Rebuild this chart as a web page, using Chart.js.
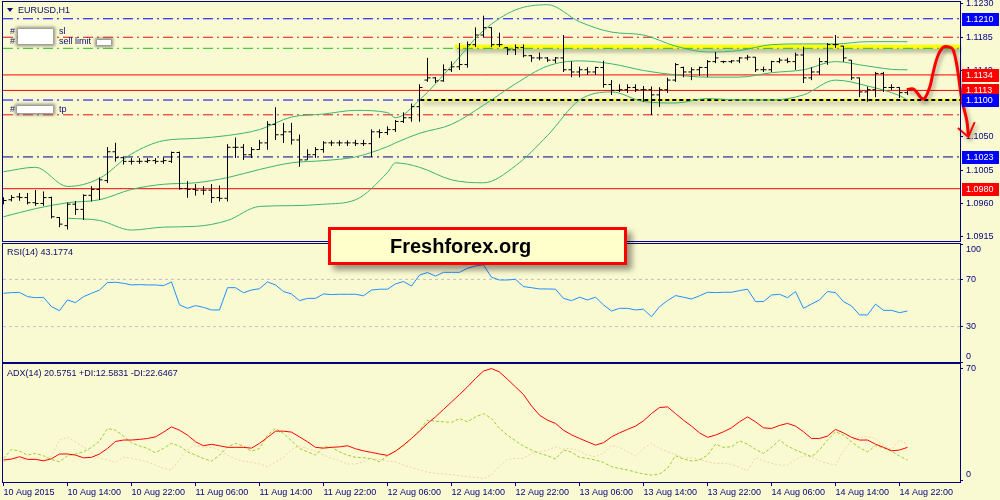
<!DOCTYPE html>
<html>
<head>
<meta charset="utf-8">
<title>EURUSD,H1</title>
<script src="https://cdn.jsdelivr.net/npm/chart.js@4.4.1/dist/chart.umd.min.js"></script>
<style>
  html, body { margin: 0; padding: 0; }
  body { width: 1000px; height: 500px; position: relative; overflow: hidden; background: #fafad2;
         font-family: "Liberation Sans", Arial, sans-serif; }
  canvas { position: absolute; left: 0; }
  .lbl { position: absolute; font-size: 9px; line-height: 11px; color: #0b0b70; white-space: nowrap; z-index: 5; }
  .blur { position: absolute; background: #fff; box-shadow: 0 0 3px 2px rgba(110,110,110,0.75); z-index: 6; }
  .tri { position: absolute; left: 7px; top: 8px; width: 0; height: 0; z-index: 5;
         border-left: 3px solid transparent; border-right: 3px solid transparent; border-top: 4px solid #0b0b70; }
  #brand { position: absolute; left: 328px; top: 227px; width: 299px; height: 38px; box-sizing: border-box;
           border: 3px solid #ff0000; background: #ffffcc; box-shadow: 5px 5px 6px rgba(0,0,0,0.4);
           font: bold 20px "Liberation Sans", Arial, sans-serif; line-height: 32px; padding-left: 59px; color: #000; z-index: 7; }
</style>
</head>
<body>
<canvas id="mainChart" width="1000" height="243" style="top:0"></canvas>
<canvas id="rsiChart" width="1000" height="120" style="top:243px"></canvas>
<canvas id="adxChart" width="1000" height="137" style="top:363px"></canvas>

<div class="tri"></div>
<div class="lbl" style="left:18px;top:5px">EURUSD,H1</div>
<div class="lbl" style="left:10px;top:26px">#</div>
<div class="lbl" style="left:59px;top:26px">sl</div>
<div class="lbl" style="left:10px;top:36px">#</div>
<div class="lbl" style="left:59px;top:36px">sell limit</div>
<div class="lbl" style="left:10px;top:104px">#</div>
<div class="lbl" style="left:59px;top:104px">tp</div>
<div class="blur" style="left:18px;top:29px;width:35px;height:15px"></div>
<div class="blur" style="left:97px;top:40px;width:14px;height:5px"></div>
<div class="blur" style="left:17px;top:106px;width:36px;height:7px"></div>
<div class="lbl" style="left:7px;top:247px">RSI(14) 43.1774</div>
<div class="lbl" style="left:7px;top:368px">ADX(14) 20.5751 +DI:12.5831 -DI:22.6467</div>
<div id="brand">Freshforex.org</div>

<script>
// ---------- values ----------

// hourly bars, 10 Aug 06:00 .. 14 Aug 23:00
const opens = [
  1.0964, 1.0965, 1.0969, 1.0968, 1.0961, 1.0960, 1.0968, 1.0941, 1.0930, 1.0959,
  1.0952, 1.0971, 1.0979, 1.0991, 1.1030, 1.1022, 1.1017, 1.1017, 1.1017, 1.1018,
  1.1017, 1.1017, 1.1029, 1.0980, 1.0979, 1.0978, 1.0978, 1.0968, 1.0967, 1.1036,
  1.1036, 1.1026, 1.1033, 1.1042, 1.1067, 1.1053, 1.1057, 1.1046, 1.1019, 1.1026,
  1.1033, 1.1042, 1.1042, 1.1042, 1.1042, 1.1041, 1.1041, 1.1057, 1.1056, 1.1060,
  1.1071, 1.1076, 1.1091, 1.1127, 1.1130, 1.1126, 1.1141, 1.1145, 1.1148, 1.1175,
  1.1188, 1.1198, 1.1175, 1.1171, 1.1168, 1.1171, 1.1160, 1.1157, 1.1157, 1.1154,
  1.1157, 1.1141, 1.1138, 1.1141, 1.1138, 1.1144, 1.1121, 1.1113, 1.1114, 1.1117,
  1.1114, 1.1114, 1.1107, 1.1114, 1.1127, 1.1144, 1.1138, 1.1141, 1.1144, 1.1152,
  1.1152, 1.1152, 1.1153, 1.1157, 1.1158, 1.1141, 1.1141, 1.1152, 1.1154, 1.1152,
  1.1161, 1.1130, 1.1138, 1.1152, 1.1175, 1.1173, 1.1154, 1.1130, 1.1111, 1.1114,
  1.1136, 1.1117, 1.1117, 1.1110
];
const highs = [
  1.0968, 1.0971, 1.0974, 1.0974, 1.0978, 1.0976, 1.0969, 1.0941, 1.0961, 1.0963,
  1.0972, 1.0983, 1.0995, 1.1036, 1.1042, 1.1023, 1.1021, 1.1021, 1.1021, 1.1021,
  1.1022, 1.1030, 1.1030, 1.0990, 1.0986, 1.0983, 1.0986, 1.0984, 1.1040, 1.1049,
  1.1040, 1.1036, 1.1046, 1.1071, 1.1090, 1.1069, 1.1069, 1.1053, 1.1033, 1.1036,
  1.1044, 1.1045, 1.1045, 1.1045, 1.1046, 1.1046, 1.1060, 1.1060, 1.1064, 1.1073,
  1.1083, 1.1095, 1.1121, 1.1157, 1.1131, 1.1148, 1.1152, 1.1177, 1.1179, 1.1198,
  1.1214, 1.1198, 1.1191, 1.1171, 1.1175, 1.1175, 1.1161, 1.1164, 1.1158, 1.1158,
  1.1188, 1.1152, 1.1145, 1.1144, 1.1145, 1.1153, 1.1127, 1.1121, 1.1121, 1.1121,
  1.1119, 1.1118, 1.1117, 1.1130, 1.1150, 1.1145, 1.1144, 1.1145, 1.1154, 1.1165,
  1.1153, 1.1154, 1.1158, 1.1161, 1.1158, 1.1145, 1.1153, 1.1157, 1.1157, 1.1164,
  1.1172, 1.1144, 1.1157, 1.1177, 1.1188, 1.1173, 1.1154, 1.1130, 1.1118, 1.1138,
  1.1138, 1.1121, 1.1117, 1.1115
];
const lows = [
  1.0959, 1.0963, 1.0964, 1.0959, 1.0957, 1.0957, 1.0940, 1.0928, 1.0925, 1.0945,
  1.0938, 1.0963, 1.0965, 1.0988, 1.1017, 1.1013, 1.1013, 1.1014, 1.1015, 1.1014,
  1.1014, 1.1015, 1.0979, 1.0968, 1.0971, 1.0972, 1.0961, 1.0963, 1.0963, 1.1022,
  1.1019, 1.1022, 1.1037, 1.1033, 1.1046, 1.1042, 1.1040, 1.1010, 1.1019, 1.1022,
  1.1029, 1.1038, 1.1038, 1.1038, 1.1038, 1.1038, 1.1023, 1.1049, 1.1053, 1.1057,
  1.1069, 1.1071, 1.1071, 1.1125, 1.1123, 1.1125, 1.1138, 1.1141, 1.1144, 1.1172,
  1.1185, 1.1172, 1.1172, 1.1161, 1.1161, 1.1158, 1.1152, 1.1154, 1.1152, 1.1150,
  1.1138, 1.1131, 1.1131, 1.1134, 1.1134, 1.1117, 1.1107, 1.1111, 1.1110, 1.1111,
  1.1098, 1.1080, 1.1091, 1.1110, 1.1125, 1.1131, 1.1127, 1.1133, 1.1131, 1.1150,
  1.1150, 1.1150, 1.1150, 1.1154, 1.1138, 1.1138, 1.1138, 1.1150, 1.1150, 1.1141,
  1.1123, 1.1127, 1.1134, 1.1148, 1.1171, 1.1152, 1.1127, 1.1104, 1.1098, 1.1104,
  1.1111, 1.1114, 1.1103, 1.1107
];
const closes = [
  1.0964, 1.0968, 1.0968, 1.0961, 1.0960, 1.0968, 1.0942, 1.0932, 1.0959, 1.0952,
  1.0971, 1.0979, 1.0992, 1.1030, 1.1022, 1.1017, 1.1017, 1.1017, 1.1018, 1.1017,
  1.1018, 1.1029, 1.0980, 1.0979, 1.0978, 1.0978, 1.0968, 1.0967, 1.1036, 1.1036,
  1.1026, 1.1033, 1.1042, 1.1067, 1.1053, 1.1057, 1.1046, 1.1019, 1.1026, 1.1033,
  1.1042, 1.1042, 1.1042, 1.1042, 1.1041, 1.1041, 1.1057, 1.1056, 1.1060, 1.1071,
  1.1076, 1.1091, 1.1117, 1.1130, 1.1126, 1.1141, 1.1145, 1.1148, 1.1175, 1.1188,
  1.1198, 1.1175, 1.1175, 1.1168, 1.1171, 1.1160, 1.1157, 1.1157, 1.1154, 1.1157,
  1.1141, 1.1138, 1.1141, 1.1138, 1.1144, 1.1121, 1.1113, 1.1114, 1.1117, 1.1114,
  1.1114, 1.1107, 1.1114, 1.1127, 1.1148, 1.1138, 1.1141, 1.1144, 1.1152, 1.1157,
  1.1152, 1.1153, 1.1157, 1.1158, 1.1141, 1.1141, 1.1152, 1.1154, 1.1152, 1.1161,
  1.1130, 1.1138, 1.1152, 1.1175, 1.1175, 1.1157, 1.1130, 1.1111, 1.1114, 1.1136,
  1.1117, 1.1117, 1.1110, 1.1113
];

// Bollinger bands, read at these bar numbers
const bbIdx = [0, 4, 8, 12, 16, 20, 24, 28, 32, 36, 40, 44, 48, 49, 52, 56, 60, 64, 68, 72,
               76, 80, 84, 88, 92, 96, 100, 104, 108, 112, 113];
const bbUpper = [1.1003, 1.1009, 1.0983, 1.0994, 1.1027, 1.1045, 1.1048, 1.1052, 1.1060, 1.1077,
                 1.1081, 1.1086, 1.1083, 1.1076, 1.1100, 1.1146, 1.1194, 1.1222, 1.1229, 1.1206,
                 1.1192, 1.1188, 1.1173, 1.1165, 1.1167, 1.1175, 1.1176, 1.1176, 1.1179, 1.1179, 1.1179];
const bbMiddle = [1.0942, 1.0953, 1.0961, 1.0965, 1.0979, 1.0986, 1.0988, 1.0995, 1.1006, 1.1015,
                  1.1018, 1.1023, 1.1037, 1.1042, 1.1055, 1.1067, 1.1093, 1.1122, 1.1146, 1.1153,
                  1.1149, 1.1140, 1.1134, 1.1131, 1.1131, 1.1137, 1.1141, 1.1152, 1.1146, 1.1141, 1.1141];
const bbLower = [null, null, 1.0940, 1.0937, 1.0924, 1.0928, 1.0929, 1.0937, 1.0956, 1.0957,
                 1.0959, 1.0965, 1.1002, 1.1015, 1.1009, 1.0992, 1.0988, 1.1011, 1.1052, 1.1100,
                 1.1111, 1.1098, 1.1096, 1.1102, 1.1100, 1.1100, 1.1107, 1.1127, 1.1119, 1.1106, 1.1100];

const priceTicks = [1.1230, 1.1185, 1.1140, 1.1095, 1.1050, 1.1005, 1.0960, 1.0915];
// horizontal levels: 1.1210, sl, sell limit, 1.1134, 1.1113, 1.1100, tp, 1.1023, 1.0980
const levelPrices = [1.1210, 1.1185, 1.1170, 1.1134, 1.1113, 1.1100, 1.1080, 1.1023, 1.0980];
// yellow zone lines (price, first bar)
const trendLevels = [1.1172, 1.1100];
const trendStart = [56.4, 52.1];
// hand drawn red forecast (bar number, price) and its arrow head
const projX = [112.9, 113.7, 114.2, 114.8, 115.2, 115.8, 116.2, 116.7, 117.4, 118.2, 118.7, 119.2, 119.8, 120.4, 120.6];
const projY = [1.1114, 1.1115, 1.1110, 1.1102, 1.1103, 1.1118, 1.1137, 1.1157, 1.1171, 1.1172, 1.1168, 1.1145, 1.1100, 1.1073, 1.1053];
const arrowX = [119.3, 120.6, 121.4];
const arrowY = [1.1062, 1.1050, 1.1070];

const rsi = [
  58.2, 58.8, 59.0, 55.4, 54.5, 54.8, 46.9, 43.5, 52.6, 50.3,
  55.4, 58.2, 61.0, 67.3, 67.6, 66.7, 65.3, 65.6, 65.3, 65.3,
  64.7, 67.9, 48.4, 45.5, 47.8, 46.3, 44.1, 44.1, 63.0, 63.0,
  58.7, 61.0, 62.1, 67.9, 65.3, 59.7, 57.7, 52.0, 53.9, 53.9,
  57.7, 57.1, 57.4, 57.4, 57.4, 56.1, 61.0, 61.7, 61.7, 66.2,
  68.2, 64.4, 73.7, 75.8, 72.8, 76.0, 76.0, 76.0, 79.4, 81.4,
  82.3, 71.8, 69.5, 69.5, 70.1, 63.9, 63.0, 61.9, 61.9, 61.7,
  53.9, 52.0, 54.9, 52.6, 54.9, 48.4, 43.2, 45.5, 45.5, 44.1,
  44.7, 38.4, 46.9, 52.0, 56.3, 54.9, 53.4, 56.1, 59.1, 58.8,
  59.1, 59.1, 60.5, 61.7, 51.2, 51.2, 56.8, 57.4, 54.5, 59.7,
  45.5, 49.1, 52.6, 59.7, 58.8, 51.2, 47.5, 39.9, 39.9, 49.0,
  43.8, 43.8, 41.8, 43.2
];
const rsiLevels = [30, 70];
const rsiTicks = [0, 30, 70, 100];

const adx = [
  12.6, 13.2, 14.7, 13.0, 13.0, 12.1, 13.4, 16.4, 16.4, 15.7,
  14.0, 14.3, 16.4, 19.9, 24.3, 25.2, 25.2, 25.6, 26.2, 27.2,
  30.2, 33.5, 31.4, 28.3, 24.1, 21.6, 22.5, 21.6, 20.6, 20.6,
  20.6, 20.1, 23.1, 26.9, 30.8, 30.8, 30.2, 27.2, 24.1, 20.6,
  20.1, 20.6, 20.9, 21.6, 19.7, 18.4, 17.4, 16.4, 15.5, 18.2,
  22.0, 26.2, 30.8, 35.7, 39.8, 44.5, 49.2, 53.9, 58.7, 64.0,
  68.7, 70.3, 68.1, 63.5, 58.7, 53.9, 46.7, 40.9, 37.7, 35.7,
  31.4, 28.5, 26.2, 24.1, 22.0, 23.5, 27.2, 29.7, 31.9, 34.0,
  37.3, 41.9, 45.7, 46.1, 41.9, 37.7, 34.0, 29.7, 26.9, 28.3,
  30.4, 32.9, 36.7, 39.8, 36.7, 32.9, 32.5, 34.4, 35.7, 34.0,
  30.4, 26.2, 26.2, 27.7, 31.9, 29.7, 26.9, 25.2, 25.2, 22.6,
  20.6, 18.4, 18.9, 20.6
];
const plusDI = [
  13.6, 19.3, 18.2, 15.7, 16.8, 15.3, 13.0, 11.5, 15.3, 16.4,
  17.8, 20.6, 24.5, 32.5, 31.4, 27.7, 23.5, 21.4, 19.9, 17.2,
  19.9, 23.1, 21.4, 17.8, 15.7, 13.6, 11.9, 15.7, 20.9, 23.1,
  21.4, 18.2, 19.9, 28.3, 32.5, 29.4, 24.7, 19.9, 17.8, 15.7,
  20.9, 20.6, 17.8, 15.7, 14.3, 14.1, 13.4, 11.5, 15.3, 18.2,
  21.4, 26.2, 31.4, 37.7, 37.1, 36.7, 36.3, 38.8, 36.7, 39.8,
  41.9, 38.8, 32.5, 28.3, 24.7, 21.4, 18.9, 16.8, 15.3, 13.2,
  18.9, 17.6, 14.3, 13.6, 12.6, 11.1, 8.4, 7.3, 6.3, 5.0,
  3.8, 3.1, 3.8, 7.3, 15.3, 13.2, 12.0, 12.6, 15.7, 22.6,
  20.6, 21.0, 24.7, 22.6, 19.3, 16.8, 20.6, 25.2, 21.4, 18.9,
  16.8, 14.7, 18.9, 25.2, 30.4, 28.3, 24.1, 20.3, 17.8, 21.6,
  20.3, 18.2, 15.1, 12.6
];
const minusDI = [
  11.5, 13.6, 12.6, 13.2, 13.6, 12.6, 15.3, 25.2, 26.9, 24.1,
  20.9, 17.4, 13.6, 12.6, 11.1, 14.3, 13.8, 12.6, 11.5, 9.4,
  7.3, 6.3, 12.9, 19.3, 22.0, 20.6, 20.6, 18.9, 15.7, 13.2,
  11.9, 11.1, 10.1, 8.4, 11.5, 14.1, 19.3, 21.4, 19.9, 18.2,
  15.7, 13.6, 12.2, 10.1, 10.1, 11.5, 13.6, 12.9, 11.9, 11.5,
  9.4, 7.9, 6.3, 5.0, 4.2, 3.8, 3.4, 2.7, 2.1, 1.7,
  1.0, 3.1, 8.8, 13.0, 13.6, 13.6, 16.8, 17.8, 18.9, 20.9,
  19.5, 19.9, 18.2, 15.7, 14.7, 16.8, 22.0, 20.6, 17.8, 15.1,
  19.9, 23.1, 19.9, 17.8, 16.4, 13.6, 14.3, 13.0, 11.5, 10.5,
  10.5, 9.9, 8.0, 5.7, 14.3, 12.0, 10.5, 9.4, 9.4, 13.0,
  15.3, 14.7, 12.0, 10.5, 9.4, 18.4, 24.7, 26.9, 27.3, 26.2,
  21.4, 19.3, 25.2, 22.6
];
const adxTicks = [0, 70];

// one time label every 8 bars
const timeLabels = ["10 Aug 2015", "10 Aug 14:00", "10 Aug 22:00", "11 Aug 06:00", "11 Aug 14:00",
                    "11 Aug 22:00", "12 Aug 06:00", "12 Aug 14:00", "12 Aug 22:00", "13 Aug 06:00",
                    "13 Aug 14:00", "13 Aug 22:00", "14 Aug 06:00", "14 Aug 14:00", "14 Aug 22:00"];

// ---------- styling ----------
const NAVY = '#000080';
const X_MIN = -0.0625, X_MAX = 119.5625; // 8px per bar
const BAR_TICK = 0.375;
const DASHDOT = [10, 4, 2, 4];
const levelStyles = [
  { color: '#0000ff', dash: DASHDOT, box: '#0000ff' },
  { color: '#e01010', dash: DASHDOT },
  { color: '#20c020', dash: DASHDOT },
  { color: '#ff0000', dash: [], box: '#ff0000' },
  { color: '#ff0000', dash: [], box: '#ff0000' },
  { color: '#0000ff', dash: DASHDOT, box: '#0000ff', under: true },
  { color: '#e01010', dash: DASHDOT },
  { color: '#000090', dash: DASHDOT, box: '#0000ff' },
  { color: '#ff0000', dash: [], box: '#ff0000' }
];

Chart.defaults.font.family = '"Liberation Sans", Arial, sans-serif';
Chart.defaults.font.size = 9;
Chart.defaults.animation = false;
Chart.defaults.plugins.legend.display = false;
Chart.defaults.plugins.tooltip.enabled = false;

// frame round each panel
const framePlugin = {
  id: 'frame',
  afterDraw(chart) {
    const { ctx, chartArea: a } = chart;
    ctx.save();
    ctx.strokeStyle = NAVY;
    ctx.lineWidth = 1;
    ctx.strokeRect(a.left - 0.5, a.top - 0.5, a.right - a.left + 1, a.bottom - a.top + 1);
    ctx.restore();
  }
};

// soft drop shadow for the drawn objects
const shadowPlugin = {
  id: 'shadow',
  beforeDatasetDraw(chart, args) {
    if (!chart.data.datasets[args.index].shadow) return;
    const ctx = chart.ctx;
    ctx.save();
    ctx.shadowColor = 'rgba(0,0,0,0.35)';
    ctx.shadowBlur = 4;
    ctx.shadowOffsetX = 2;
    ctx.shadowOffsetY = 3;
  },
  afterDatasetDraw(chart, args) {
    if (chart.data.datasets[args.index].shadow) chart.ctx.restore();
  }
};

// coloured price labels on the right axis
const priceBoxPlugin = {
  id: 'priceBoxes',
  afterDraw(chart) {
    const { ctx } = chart;
    const y = chart.scales.y;
    ctx.save();
    ctx.font = '9px "Liberation Sans", Arial, sans-serif';
    ctx.textBaseline = 'middle';
    levelPrices.forEach((p, k) => {
      const box = levelStyles[k].box;
      if (!box) return;
      const py = Math.round(y.getPixelForValue(p));
      ctx.fillStyle = box;
      ctx.fillRect(y.left + 2, py - 6, 37, 13);
      ctx.fillStyle = '#ffffff';
      ctx.fillText(p.toFixed(4), y.left + 6, py + 1);
    });
    ctx.restore();
  }
};

// bar axis: range fixed after the data limits so points past the edge are still laid out
const fixBarRange = s => { s.min = X_MIN; s.max = X_MAX; };

function hiddenX() {
  return { type: 'linear', display: false, bounds: 'data', afterDataLimits: fixBarRange };
}

function rightAxis(min, max, values, fmt) {
  return {
    type: 'linear', position: 'right', min: min, max: max,
    afterFit: s => { s.width = 40; s.paddingTop = 0; s.paddingBottom = 0; },
    afterBuildTicks: s => { s.ticks = values.map(v => ({ value: v })); },
    grid: { drawOnChartArea: false, drawTicks: true, tickLength: 3, color: NAVY },
    border: { display: true, color: NAVY },
    ticks: { color: NAVY, padding: 3, callback: fmt }
  };
}

function lineSet(points, extra) {
  return Object.assign({ data: points, borderWidth: 1, pointRadius: 0, fill: false }, extra);
}

const seriesPoints = arr => arr.map((v, i) => ({ x: i, y: v }));
const pairPoints = (xs, ys) => xs.map((x, k) => ({ x: x, y: ys[k] }));
const flat = (p, from) => [{ x: from, y: p }, { x: X_MAX, y: p }];

// ---------- price panel ----------
const barPath = [];
opens.forEach((o, i) => {
  barPath.push({ x: i - BAR_TICK, y: o }, { x: i, y: o }, { x: i, y: lows[i] }, { x: i, y: highs[i] },
               { x: i, y: closes[i] }, { x: i + BAR_TICK, y: closes[i] }, { x: i, y: null });
});

const mainSets = [];
levelPrices.forEach((p, k) => {
  const st = levelStyles[k];
  mainSets.push(lineSet(flat(p, X_MIN), { borderColor: st.color, borderDash: st.dash, order: st.under ? 40 : 20 }));
});
mainSets.push(lineSet(flat(trendLevels[0], trendStart[0]), { borderColor: '#ffff00', borderWidth: 4, shadow: true, order: 30 }));
mainSets.push(lineSet(flat(trendLevels[1], trendStart[1]), { borderColor: '#ffff00', borderWidth: 2, shadow: true, order: 31 }));
mainSets.push(lineSet(flat(trendLevels[1], trendStart[1]), { borderColor: '#000000', borderWidth: 2, borderDash: [4, 3], order: 29 }));
[bbUpper, bbMiddle, bbLower].forEach(band => {
  mainSets.push(lineSet(pairPoints(bbIdx, band),
    { borderColor: '#3cb371', cubicInterpolationMode: 'monotone', order: 15 }));
});
mainSets.push(lineSet(barPath, { borderColor: '#000000', order: 10 }));
mainSets.push(lineSet(pairPoints(projX, projY), {
  borderColor: '#ff0000', borderWidth: 3, tension: 0.4, clip: false, shadow: true, order: 1
}));
mainSets.push(lineSet(pairPoints(arrowX, arrowY), {
  borderColor: '#ff0000', borderWidth: 2, clip: false, shadow: true, order: 0
}));

new Chart(document.getElementById('mainChart'), {
  type: 'line',
  data: { datasets: mainSets },
  options: {
    responsive: false, devicePixelRatio: 1, events: [],
    layout: { autoPadding: false, padding: { left: 3, top: 2, right: 0, bottom: 2 } },
    scales: {
      x: hiddenX(),
      y: rightAxis(1.09092, 1.12327, priceTicks, v => v.toFixed(4))
    }
  },
  plugins: [shadowPlugin, framePlugin, priceBoxPlugin]
});

// ---------- RSI panel ----------
const rsiSets = rsiLevels.map(v => lineSet(flat(v, X_MIN), { borderColor: '#c0c0c0', borderDash: [3, 3], order: 5 }));
rsiSets.push(lineSet(seriesPoints(rsi), { borderColor: '#1e90ff', order: 1 }));

new Chart(document.getElementById('rsiChart'), {
  type: 'line',
  data: { datasets: rsiSets },
  options: {
    responsive: false, devicePixelRatio: 1, events: [],
    layout: { autoPadding: false, padding: { left: 3, top: 1, right: 0, bottom: 1 } },
    scales: {
      x: hiddenX(),
      y: rightAxis(0, 100, rsiTicks, v => (v === 100 ? ['', '100'] : v === 0 ? ['0', ''] : String(v)))
    }
  },
  plugins: [framePlugin]
});

// ---------- ADX panel ----------
new Chart(document.getElementById('adxChart'), {
  type: 'line',
  data: {
    datasets: [
      lineSet(seriesPoints(minusDI), { borderColor: '#f3cfae', borderDash: [2, 2], order: 3 }),
      lineSet(seriesPoints(plusDI), { borderColor: '#9acd32', borderDash: [3, 2], order: 2 }),
      lineSet(seriesPoints(adx), { borderColor: '#ff0000', order: 1 })
    ]
  },
  options: {
    responsive: false, devicePixelRatio: 1, events: [],
    layout: { autoPadding: false, padding: { left: 3, top: 1, right: 0, bottom: 0 } },
    scales: {
      x: {
        type: 'linear', position: 'bottom', bounds: 'data', afterDataLimits: fixBarRange,
        afterFit: s => { s.height = 18; s.paddingLeft = 0; s.paddingRight = 0; },
        afterBuildTicks: s => { s.ticks = timeLabels.map((t, k) => ({ value: k * 8 })); },
        grid: { drawOnChartArea: false, drawTicks: true, tickLength: 4, color: NAVY },
        border: { display: true, color: NAVY },
        ticks: { color: NAVY, align: 'start', padding: 1, maxRotation: 0, autoSkip: false,
                 callback: v => timeLabels[Math.round(v / 8)] }
      },
      y: rightAxis(-1.26, 73.15, adxTicks, v => (v === 0 ? ['0', ''] : String(v)))
    }
  },
  plugins: [framePlugin]
});
</script>
</body>
</html>
